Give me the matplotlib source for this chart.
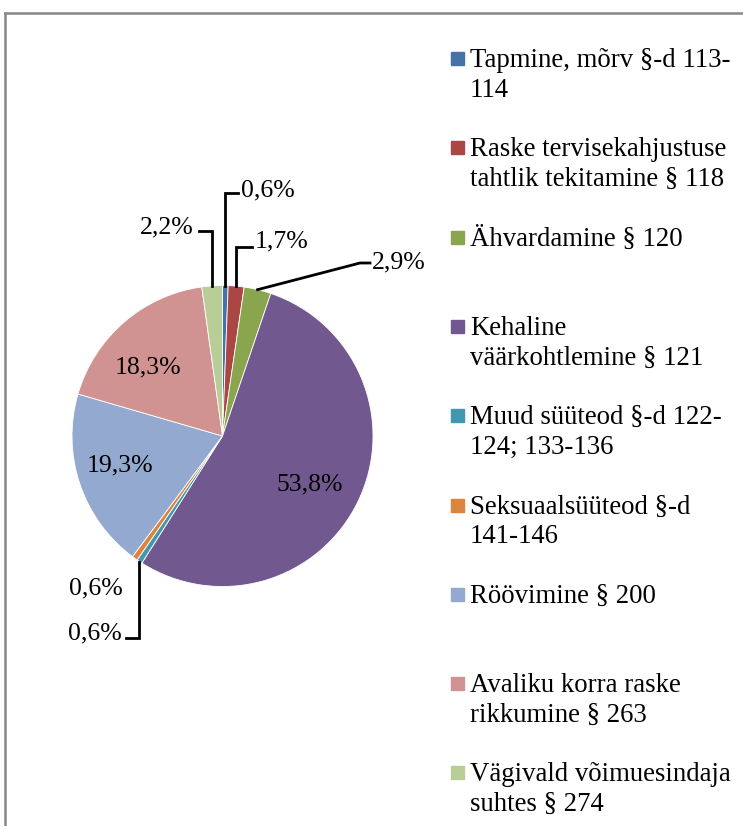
#!/usr/bin/env python3
"""Pie chart of violent offence types (Estonian labels), Excel-style layout."""
import matplotlib.pyplot as plt
import numpy as np
from matplotlib.lines import Line2D
from matplotlib.patches import Rectangle

W, H = 743, 826

categories = [
    "Tapmine, mõrv §-d 113-\n114",
    "Raske tervisekahjustuse\ntahtlik tekitamine § 118",
    "Ähvardamine § 120",
    "Kehaline\nväärkohtlemine § 121",
    "Muud süüteod §-d 122-\n124; 133-136",
    "Seksuaalsüüteod §-d\n141-146",
    "Röövimine § 200",
    "Avaliku korra raske\nrikkumine § 263",
    "Vägivald võimuesindaja\nsuhtes § 274",
]
shares = [0.6, 1.7, 2.9, 53.8, 0.6, 0.6, 19.3, 18.3, 2.2]
colors = ["#4572A7", "#AA4643", "#89A54E", "#71588F", "#4198AF",
          "#DB843D", "#93A9CF", "#D19392", "#B9CD96"]

plt.rcParams["font.family"] = ["Liberation Serif", "DejaVu Serif"]
LABEL_FS = 18.5
LEGEND_FS = 19.3

# layout (image pixel coords, y measured from top)
CENTER = (222.5, 436)
RADIUS = 150.5
INSIDE = {3: (310, 484), 6: (120, 465), 7: (148, 367)}
# index -> (kind, elbow, end_x, text_xy, ha)
OUTSIDE = {
    0: ("v", 193, 238, (241, 190), "left"),
    1: ("v", 247, 252, (255, 241), "left"),
    2: ("p", (360, 263), 370, (372, 262), "left"),
    8: ("v", 231, 199, (194, 227), "right"),
    4: ("v", 638, 126, (122, 633), "right"),
    5: (None, None, None, (123, 588), "right"),
}


def fy(y):
    return H - y


def pct(v):
    return f"{v:.1f}%".replace(".", ",")


fig = plt.figure(figsize=(W / 100, H / 100), dpi=100)
ax = fig.add_axes([0, 0, 1, 1])
wedges, _ = ax.pie(shares, colors=colors, startangle=90, counterclock=False,
                   center=(CENTER[0], fy(CENTER[1])), radius=RADIUS,
                   wedgeprops=dict(edgecolor="white", linewidth=0.6))
ax.set_xlim(0, W)
ax.set_ylim(0, H)
ax.set_aspect("equal")
ax.axis("off")

for i, (x, y) in INSIDE.items():
    ax.text(x, fy(y), pct(shares[i]), ha="center", va="center", fontsize=LABEL_FS)

for i, (kind, elbow, end_x, (tx, ty), ha) in OUTSIDE.items():
    w = wedges[i]
    th = np.deg2rad((w.theta1 + w.theta2) / 2)
    ax0 = CENTER[0] + RADIUS * np.cos(th)
    ay0 = fy(CENTER[1]) + RADIUS * np.sin(th)
    if kind == "v":
        xs = [ax0, ax0, end_x]
        ys = [ay0, fy(elbow), fy(elbow)]
    elif kind == "p":
        xs = [ax0, elbow[0], end_x]
        ys = [ay0, fy(elbow[1]), fy(elbow[1])]
    if kind:
        ax.plot(xs, ys, color="black", lw=2.0, clip_on=False,
                solid_joinstyle="miter")
    ax.text(tx, fy(ty), pct(shares[i]), ha=ha, va="center", fontsize=LABEL_FS)

# legend, drawn by hand to follow Excel's spacing
base0, slot, line_h = 67, 89.3, 29.7
for i, (lab, c) in enumerate(zip(categories, colors)):
    b = base0 + i * slot
    ax.add_patch(Rectangle((451, fy(b - 2)), 13, 13, color=c, clip_on=False))
    for j, line in enumerate(lab.split("\n")):
        ax.text(470, fy(b + j * line_h), line, ha="left", va="baseline",
                fontsize=LEGEND_FS)

# chart frame (only left and top visible in the crop)
frame = dict(color="#868686", lw=1.8)
fig.add_artist(Line2D([5 / W, 5 / W], [0, 1 - 13 / H], transform=fig.transFigure, **frame))
fig.add_artist(Line2D([5 / W, 1], [1 - 13 / H, 1 - 13 / H], transform=fig.transFigure, **frame))

fig.savefig("out.png", dpi=100)
